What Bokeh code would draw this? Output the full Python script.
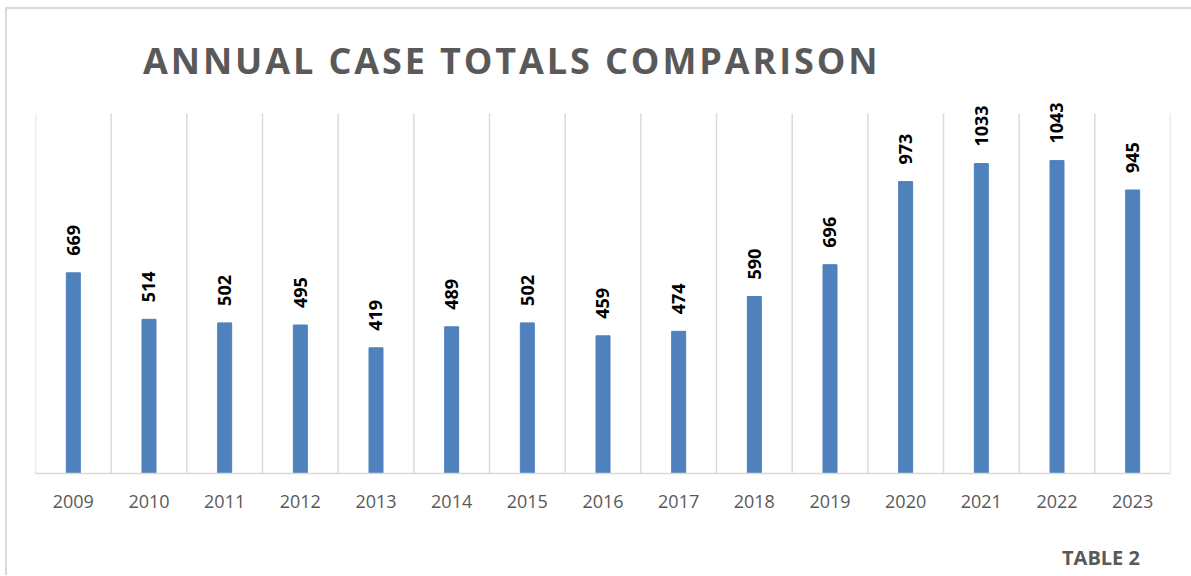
import math
from bokeh.plotting import figure
from bokeh.layouts import column
from bokeh.models import ColumnDataSource, FixedTicker, LabelSet, Range1d, Div
from bokeh.core.properties import value
from bokeh.embed import file_html
from bokeh.resources import INLINE

years = ["2009", "2010", "2011", "2012", "2013", "2014", "2015", "2016",
         "2017", "2018", "2019", "2020", "2021", "2022", "2023"]
cases = [669, 514, 502, 495, 419, 489, 502, 459, 474, 590, 696, 973, 1033, 1043, 945]
title_text = "ANNUAL CASE TOTALS COMPARISON"
footer_text = "TABLE 2"
Y_TOP = 1200          # top of the value axis (where the gridlines end)
Y_VIEW = 1260         # extra room above for the rotated value labels

pos = [i + 0.5 for i in range(len(years))]
bounds = list(range(len(years) + 1))
src = ColumnDataSource(dict(x=pos, top=cases, label=[str(c) for c in cases]))

W = 1182
title_div = Div(
    text=('<div style="margin-top:29px; padding-left:131px; font-family:\'Open Sans\';'
          'font-weight:bold; font-size:36px; line-height:36px; letter-spacing:2.9px;'
          'color:#595959; white-space:nowrap;">' + title_text + '</div>'),
    width=W, height=76)

p = figure(width=W, height=440, output_backend="svg", toolbar_location=None,
           x_range=Range1d(0, len(years)), y_range=Range1d(0, Y_VIEW),
           min_border_left=28, min_border_right=19, min_border_top=0,
           min_border_bottom=62)

p.segment(x0=bounds, y0=0, x1=bounds, y1=Y_TOP, line_color="#d9d9d9", line_width=1.5)
p.vbar(x="x", top="top", width=0.185, source=src, color="#4F81BD")
p.add_layout(LabelSet(x="x", y="top", text="label", source=src, angle=math.pi / 2,
                      text_align="left", text_baseline="middle", y_offset=17,
                      text_font=value("Open Sans"), text_font_style=value("bold"),
                      text_font_size=value("18px"), text_color=value("black")))

p.yaxis.visible = False
p.ygrid.visible = False
p.xgrid.visible = False
p.outline_line_color = None

ax = p.xaxis[0]
ax.ticker = FixedTicker(ticks=pos)
ax.major_label_overrides = {x: y for x, y in zip(pos, years)}
ax.axis_line_color = "#d9d9d9"
ax.axis_line_width = 1.5
ax.major_tick_line_color = None
ax.minor_tick_line_color = None
ax.major_label_text_font = "Open Sans"
ax.major_label_text_font_size = "18px"
ax.major_label_text_color = "#595959"
ax.major_label_standoff = 15

footer_div = Div(
    text=('<div style="margin-top:8px; padding-left:1050px; font-family:\'Open Sans\';'
          'font-weight:bold; font-size:20px; line-height:20px; color:#595959;'
          'white-space:nowrap;">' + footer_text + '</div>'),
    width=W, height=30)

layout = column(title_div, p, footer_div, spacing=0)
layout.styles = {"border-top": "2px solid #d9d9d9", "border-left": "2px solid #d9d9d9",
                 "margin-left": "5px", "margin-top": "7px"}

open("out.html", "w").write(file_html(layout, INLINE))
